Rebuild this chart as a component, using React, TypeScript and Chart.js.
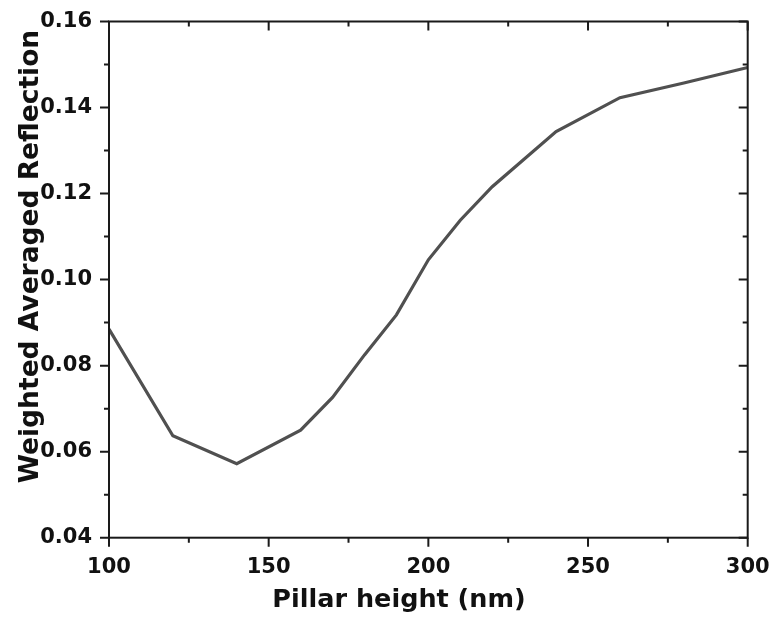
import React, { useEffect, useRef } from "react";
import { Chart, registerables } from "chart.js";

Chart.register(...registerables);

const pillarHeights = [100, 120, 140, 160, 170, 180, 190, 200, 210, 220, 240, 260, 280, 300];
const reflection = [0.0885, 0.0637, 0.0572, 0.065, 0.0726, 0.0825, 0.0918, 0.1046, 0.1138, 0.1216, 0.1344, 0.1423, 0.1457, 0.1493];
const xTickValues = [100, 150, 200, 250, 300];
const yTickValues = [0.04, 0.06, 0.08, 0.1, 0.12, 0.14, 0.16];
const xTitle = "Pillar height (nm)";
const yTitle = "Weighted Averaged Reflection";

const FONT = "'DejaVu Sans', 'Liberation Sans', sans-serif";
const AXIS_COLOR = "#1a1a1a";

const zeroPad = (scale: any) => {
  scale.paddingLeft = 0;
  scale.paddingRight = 0;
  scale.paddingTop = 0;
  scale.paddingBottom = 0;
};

const framePlugin = {
  id: "frameTicks",
  afterDraw(chart: any) {
    const { ctx, chartArea, scales } = chart;
    const { left, right, top, bottom } = chartArea;
    const xs = scales.x;
    const ys = scales.y;
    const major = 9;
    const minor = 5;
    ctx.save();
    ctx.strokeStyle = AXIS_COLOR;
    ctx.lineWidth = 2;
    ctx.lineCap = "butt";
    ctx.strokeRect(left, top, right - left, bottom - top);
    ctx.beginPath();
    xTickValues.forEach((v, i) => {
      const px = xs.getPixelForValue(v);
      ctx.moveTo(px, bottom);
      ctx.lineTo(px, bottom + major);
      ctx.moveTo(px, top);
      ctx.lineTo(px, top + major);
      if (i < xTickValues.length - 1) {
        const m = xs.getPixelForValue((v + xTickValues[i + 1]) / 2);
        ctx.moveTo(m, bottom);
        ctx.lineTo(m, bottom + minor);
        ctx.moveTo(m, top);
        ctx.lineTo(m, top + minor);
      }
    });
    yTickValues.forEach((v, i) => {
      const py = ys.getPixelForValue(v);
      ctx.moveTo(left, py);
      ctx.lineTo(left - major, py);
      ctx.moveTo(right, py);
      ctx.lineTo(right - major, py);
      if (i < yTickValues.length - 1) {
        const m = ys.getPixelForValue((v + yTickValues[i + 1]) / 2);
        ctx.moveTo(left, m);
        ctx.lineTo(left - minor, m);
        ctx.moveTo(right, m);
        ctx.lineTo(right - minor, m);
      }
    });
    ctx.stroke();

    ctx.fillStyle = "#111";
    ctx.font = `bold 25.5px ${FONT}`;
    ctx.textAlign = "center";
    ctx.textBaseline = "alphabetic";
    ctx.fillText(xTitle, 399, 606.5);

    ctx.translate(37.5, 256.5);
    ctx.rotate(-Math.PI / 2);
    ctx.font = `bold 26.5px ${FONT}`;
    ctx.fillText(yTitle, 0, 0);
    ctx.restore();
  },
};

export default function App() {
  const canvasRef = useRef<HTMLCanvasElement | null>(null);

  useEffect(() => {
    document.body.style.margin = "0";
    const canvas = canvasRef.current;
    if (!canvas) return;
    const chart = new Chart(canvas, {
      type: "line",
      data: {
        datasets: [
          {
            data: pillarHeights.map((h, i) => ({ x: h, y: reflection[i] })),
            borderColor: "#505050",
            borderWidth: 3.2,
            pointRadius: 0,
            tension: 0,
            fill: false,
          },
        ],
      },
      options: {
        responsive: false,
        animation: false,
        devicePixelRatio: 1,
        layout: { padding: { left: 0, right: 24.3, top: 21.5, bottom: 0 } },
        plugins: {
          legend: { display: false },
          tooltip: { enabled: false },
          title: { display: false },
        },
        scales: {
          x: {
            type: "linear",
            min: 100,
            max: 300,
            afterBuildTicks: (scale: any) => {
              scale.ticks = xTickValues.map((v) => ({ value: v }));
            },
            afterFit: (scale: any) => {
              scale.height = 85.3;
              zeroPad(scale);
            },
            grid: { display: false, drawTicks: false },
            border: { display: false },
            ticks: {
              padding: 17,
              color: "#111",
              font: { family: FONT, weight: "bold", size: 21 },
              callback: (v: any) => String(v),
              maxRotation: 0,
              autoSkip: false,
            },
          },
          y: {
            type: "linear",
            min: 0.04,
            max: 0.16,
            afterBuildTicks: (scale: any) => {
              scale.ticks = yTickValues.map((v) => ({ value: v }));
            },
            afterFit: (scale: any) => {
              scale.width = 109;
              zeroPad(scale);
            },
            grid: { display: false, drawTicks: false },
            border: { display: false },
            ticks: {
              padding: 17,
              color: "#111",
              font: { family: FONT, weight: "bold", size: 21 },
              callback: (v: any) => Number(v).toFixed(2),
              autoSkip: false,
            },
          },
        },
      },
      plugins: [framePlugin],
    } as any);
    return () => chart.destroy();
  }, []);

  return (
    <div style={{ width: 772, height: 623, background: "#fff" }}>
      <canvas ref={canvasRef} width={772} height={623} style={{ display: "block" }} />
    </div>
  );
}
